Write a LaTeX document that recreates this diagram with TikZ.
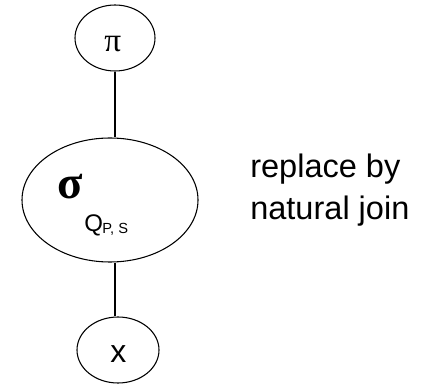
\documentclass[tikz,border=0pt]{standalone}
\usepackage{fontspec}
\setmainfont{Liberation Sans}
\newfontfamily\greekfont{Liberation Serif}
\usetikzlibrary{shapes.geometric}
\begin{document}
\begin{tikzpicture}[x=0.75pt,y=-0.75pt,
  oval/.style={draw,ellipse,line width=0.8pt,inner sep=0pt},
  conn/.style={line width=0.8pt},
  txt/.style={inner sep=0pt,anchor=base west}]
\useasboundingbox (0,0) rectangle (428,384);
% ellipses
\node[oval,minimum width=60pt,minimum height=49.5pt] (pi) at (115,38) {};
\node[oval,minimum width=132pt,minimum height=93pt] (sel) at (110,200) {};
\node[oval,minimum width=61.5pt,minimum height=49.5pt] (xn) at (118,350) {};
% contents
\node[txt] (pisym) at (104,52) {\greekfont\fontsize{25pt}{25pt}\selectfont π};
\node[txt] (sigsym) at (57,199) {\greekfont\bfseries\fontsize{35pt}{35pt}\selectfont σ};
\node[txt] (q) at (84,232) {\fontsize{18pt}{18pt}\selectfont Q};
\node[txt] (qsub) at (102,234) {\fontsize{11pt}{11pt}\selectfont P, S};
\node[txt] (xsym) at (110,363) {\fontsize{24pt}{24pt}\selectfont x};
% connectors
\draw[conn] (pi.south) -- (pi.south |- sel.north);
\draw[conn] (xn.north -| pi.south) -- (pi.south |- sel.south);
% side text
\node[txt] (t1) at (250,178) {\fontsize{24.4pt}{24.4pt}\selectfont replace by};
\node[txt] (t2) at (250,220) {\fontsize{24.4pt}{24.4pt}\selectfont natural join};
\end{tikzpicture}
\end{document}
